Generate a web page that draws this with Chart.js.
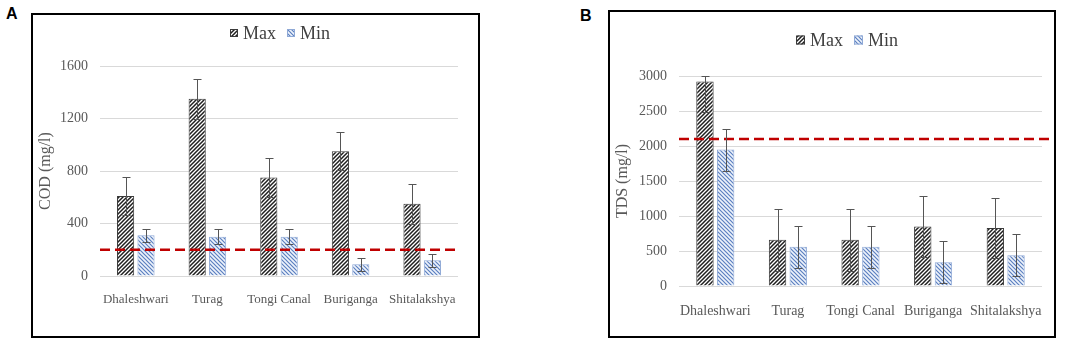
<!DOCTYPE html>
<html>
<head>
<meta charset="utf-8">
<script src="https://cdn.jsdelivr.net/npm/chart.js@4/dist/chart.umd.min.js"></script>
<style>
  body { margin: 0; background: #fff; width: 1084px; height: 345px; position: relative; overflow: hidden; }
  .panel { position: absolute; box-sizing: border-box; border: 2px solid #000; }
  .tag { position: absolute; font: bold 16px "Liberation Sans", Arial, sans-serif; color: #000; }
  canvas { position: absolute; }
</style>
</head>
<body>
<div class="tag" style="left:6px;top:5px;">A</div>
<div class="panel" style="left:31px;top:13px;width:449px;height:325px;"></div>
<canvas id="codChart" width="445" height="321" style="left:33px;top:15px;width:445px;height:321px;"></canvas>

<div class="tag" style="left:580px;top:7px;">B</div>
<div class="panel" style="left:608px;top:10px;width:448px;height:328px;"></div>
<canvas id="tdsChart" width="444" height="324" style="left:610px;top:12px;width:444px;height:324px;"></canvas>

<script>
const rivers = ["Dhaleshwari", "Turag", "Tongi Canal", "Buriganga", "Shitalakshya"];

// COD (mg/l)
const codMax = [610, 1350, 750, 950, 550];
const codMaxErr = [145, 150, 150, 145, 150];
const codMin = [310, 300, 300, 90, 120];
const codMinErr = [50, 55, 55, 50, 50];
const codLimit = 200;
const codTicks = [0, 400, 800, 1200, 1600];

// TDS (mg/l)
const tdsMax = [2920, 660, 660, 850, 830];
const tdsMaxErr = [440, 440, 440, 440, 430];
const tdsMin = [1950, 560, 560, 340, 440];
const tdsMinErr = [300, 300, 300, 300, 300];
const tdsLimit = 2100;
const tdsTicks = [0, 500, 1000, 1500, 2000, 2500, 3000];

const SERIF = "'Liberation Serif', 'Times New Roman', serif";
const GREY = "#595959";

// diagonal hatch fill
function hatch(bg, fg, dir, lw) {
  const c = document.createElement("canvas");
  c.width = 4; c.height = 4;
  const x = c.getContext("2d");
  x.fillStyle = bg;
  x.fillRect(0, 0, 4, 4);
  x.strokeStyle = fg;
  x.lineWidth = lw;
  x.beginPath();
  if (dir > 0) {
    x.moveTo(-1, 5); x.lineTo(5, -1);
    x.moveTo(-1, 1); x.lineTo(1, -1);
    x.moveTo(3, 5); x.lineTo(5, 3);
  } else {
    x.moveTo(-1, -1); x.lineTo(5, 5);
    x.moveTo(-1, 3); x.lineTo(1, 5);
    x.moveTo(3, -1); x.lineTo(5, 1);
  }
  x.stroke();
  return x.createPattern(c, "repeat");
}

const maxFill = hatch("#ffffff", "#1f1f1f", 1, 1.5);
const minFill = hatch("#eef3fb", "#5b7fc0", -1, 1.2);

const errorBars = {
  id: "errorBars",
  afterDatasetsDraw(chart) {
    const ctx = chart.ctx;
    const y = chart.scales.y;
    ctx.save();
    ctx.strokeStyle = "#555555";
    ctx.lineWidth = 1;
    chart.data.datasets.forEach((ds, i) => {
      chart.getDatasetMeta(i).data.forEach((bar, j) => {
        const v = ds.data[j], e = ds.errors[j];
        const top = Math.round(y.getPixelForValue(Math.min(v + e, y.max))) + 0.5;
        const bot = Math.round(y.getPixelForValue(Math.max(v - e, y.min))) + 0.5;
        const cx = Math.round(bar.x) + 0.5;
        ctx.beginPath();
        ctx.moveTo(cx, top); ctx.lineTo(cx, bot);
        ctx.moveTo(cx - 4, top); ctx.lineTo(cx + 4, top);
        ctx.moveTo(cx - 4, bot); ctx.lineTo(cx + 4, bot);
        ctx.stroke();
      });
    });
    ctx.restore();
  }
};

const limitLine = {
  id: "limitLine",
  afterDatasetsDraw(chart, args, opts) {
    const ctx = chart.ctx;
    const area = chart.chartArea;
    const py = chart.scales.y.getPixelForValue(opts.value);
    ctx.save();
    ctx.strokeStyle = "#c00000";
    ctx.lineWidth = 2.5;
    ctx.setLineDash([10, 5]);
    ctx.beginPath();
    ctx.moveTo(area.left, py);
    ctx.lineTo(area.right + opts.extend, py);
    ctx.stroke();
    ctx.restore();
  }
};

const hatchLegend = {
  id: "hatchLegend",
  afterDraw(chart, args, opts) {
    const ctx = chart.ctx;
    ctx.save();
    ctx.font = "normal 18px " + SERIF;
    ctx.textBaseline = "middle";
    let x = opts.x;
    chart.data.datasets.forEach((ds) => {
      ctx.fillStyle = ds.backgroundColor;
      ctx.fillRect(x, opts.y - opts.box / 2, opts.box, opts.box);
      ctx.strokeStyle = ds.borderColor;
      ctx.lineWidth = 1;
      ctx.strokeRect(x + 0.5, opts.y - opts.box / 2 + 0.5, opts.box - 1, opts.box - 1);
      x += opts.box + 5;
      ctx.fillStyle = "#404040";
      ctx.fillText(ds.label, x, opts.y + 1);
      x += ctx.measureText(ds.label).width + 11;
    });
    ctx.restore();
  }
};

function makeChart(id, maxData, maxErr, minData, minErr, ticks, limit, title, lay) {
  return new Chart(document.getElementById(id), {
    type: "bar",
    data: {
      labels: rivers,
      datasets: [
        { label: "Max", data: maxData, errors: maxErr, backgroundColor: maxFill, borderColor: "#3a3a3a", borderWidth: 1 },
        { label: "Min", data: minData, errors: minErr, backgroundColor: minFill, borderColor: "#8fa9d6", borderWidth: 1 }
      ]
    },
    options: {
      responsive: false,
      animation: false,
      layout: { padding: { top: lay.top, right: lay.right, left: 0, bottom: 0 } },
      datasets: { bar: { categoryPercentage: 0.57, barPercentage: 0.84 } },
      plugins: {
        legend: { display: false },
        tooltip: { enabled: false },
        limitLine: { value: limit, extend: lay.extend },
        hatchLegend: lay.legend
      },
      scales: {
        x: {
          grid: { display: false },
          border: { display: false },
          ticks: { autoSkip: false, maxRotation: 0, padding: lay.xPad, color: GREY, font: { family: SERIF, size: lay.xFont } },
          afterFit(s) { s.height = lay.bottom; }
        },
        y: {
          min: 0,
          max: ticks[ticks.length - 1],
          afterBuildTicks(s) { s.ticks = ticks.map(v => ({ value: v })); },
          grid: { color: "#d9d9d9", lineWidth: 1, drawTicks: false },
          border: { display: false },
          ticks: { padding: 12, color: GREY, font: { family: SERIF, size: 14 }, callback: v => String(v) },
          title: { display: true, text: title, color: GREY, padding: { top: 3, bottom: 0 }, font: { family: SERIF, size: 16 } },
          afterFit(s) { s.width = lay.left; }
        }
      }
    },
    plugins: [limitLine, errorBars, hatchLegend]
  });
}

makeChart("codChart", codMax, codMaxErr, codMin, codMinErr, codTicks, codLimit, "COD (mg/l)", {
  top: 51, right: 20, left: 67, bottom: 60, xPad: 8, xFont: 13, extend: 2,
  legend: { x: 197, y: 18, box: 8 }
});

makeChart("tdsChart", tdsMax, tdsMaxErr, tdsMin, tdsMinErr, tdsTicks, tdsLimit, "TDS (mg/l)", {
  top: 64, right: 12, left: 69, bottom: 50, xPad: 9, xFont: 14, extend: 8,
  legend: { x: 186, y: 28, box: 9 }
});
</script>
</body>
</html>
